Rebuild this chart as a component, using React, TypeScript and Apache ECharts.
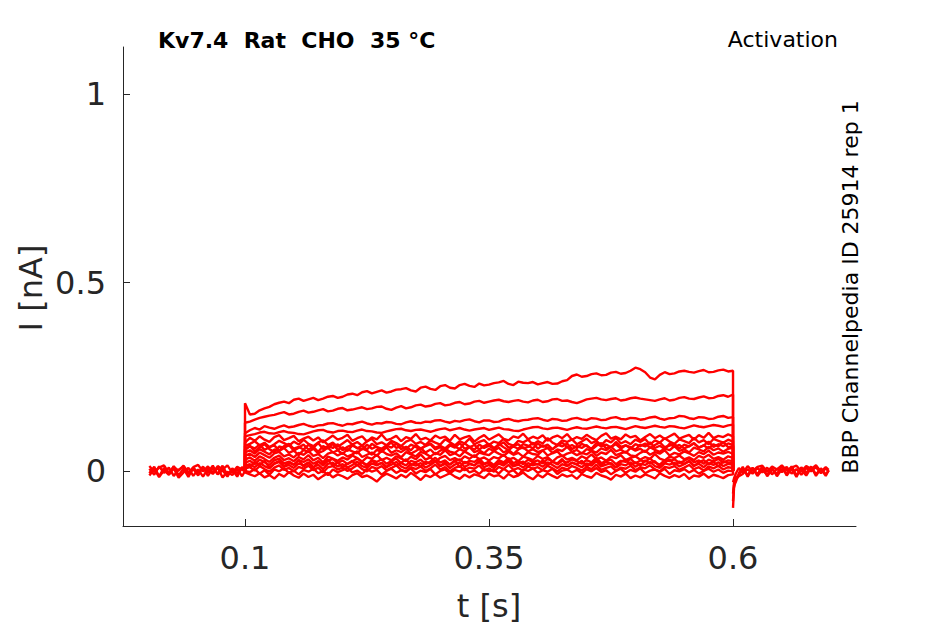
import React, { useEffect, useRef } from "react";
import * as echarts from "echarts";

// Sample times (s)
const preTimes = [0.002, 0.007, 0.012, 0.017, 0.022, 0.027, 0.032, 0.037, 0.042, 0.047, 0.052, 0.057, 0.062, 0.067, 0.072, 0.077, 0.082, 0.087, 0.092, 0.097, 0.100];
const stepTimes = [
  0.100, 0.105, 0.110, 0.115, 0.120, 0.125, 0.130, 0.135, 0.140, 0.145,
  0.150, 0.155, 0.160, 0.165, 0.170, 0.175, 0.180, 0.185, 0.190, 0.195,
  0.200, 0.205, 0.210, 0.215, 0.220, 0.225, 0.230, 0.235, 0.240, 0.245,
  0.250, 0.255, 0.260, 0.265, 0.270, 0.275, 0.280, 0.285, 0.290, 0.295,
  0.300, 0.305, 0.310, 0.315, 0.320, 0.325, 0.330, 0.335, 0.340, 0.345,
  0.350, 0.355, 0.360, 0.365, 0.370, 0.375, 0.380, 0.385, 0.390, 0.395,
  0.400, 0.405, 0.410, 0.415, 0.420, 0.425, 0.430, 0.435, 0.440, 0.445,
  0.450, 0.455, 0.460, 0.465, 0.470, 0.475, 0.480, 0.485, 0.490, 0.495,
  0.500, 0.505, 0.510, 0.515, 0.520, 0.525, 0.530, 0.535, 0.540, 0.545,
  0.550, 0.555, 0.560, 0.565, 0.570, 0.575, 0.580, 0.585, 0.590, 0.595,
  0.600,
];
const postTimes = [0.600, 0.601, 0.603, 0.606, 0.610, 0.615, 0.620, 0.625, 0.630, 0.635, 0.640, 0.645, 0.650, 0.655, 0.660, 0.665, 0.670, 0.675, 0.680, 0.685, 0.690, 0.695, 0.698];

// Holding baseline before the step (nA)
const pre1 = [0.006, -0.010, 0.012, -0.005, 0.009, -0.013, 0.003, 0.011, -0.008, 0.005, -0.012, 0.010, -0.004, 0.014, -0.009, 0.002, -0.015, 0.007, -0.006, 0.010, 0.000];
const pre2 = [-0.012, 0.005, -0.016, 0.002, -0.010, 0.007, -0.018, -0.004, 0.008, -0.013, 0.004, -0.015, 0.006, -0.008, 0.009, -0.017, -0.002, -0.011, 0.006, -0.014, 0.000];
const pre3 = [0.013, -0.002, 0.009, 0.015, -0.005, 0.011, 0.001, 0.014, -0.004, 0.010, 0.016, -0.001, 0.012, -0.006, 0.013, 0.004, 0.015, -0.005, 0.011, 0.003, 0.000];
const pre4 = [-0.006, 0.011, -0.014, 0.008, -0.009, 0.013, -0.012, 0.006, -0.016, 0.009, -0.005, 0.012, -0.013, 0.007, -0.008, 0.014, -0.011, 0.004, -0.015, 0.010, 0.000];

// Currents during the activation step (nA), one per voltage step
const trace1 = [
  0.180, 0.150, 0.152, 0.161, 0.166, 0.170, 0.177, 0.181, 0.184, 0.180,
  0.189, 0.192, 0.186, 0.190, 0.194, 0.188, 0.192, 0.197, 0.199, 0.194,
  0.197, 0.203, 0.205, 0.201, 0.209, 0.212, 0.206, 0.210, 0.214, 0.208,
  0.211, 0.216, 0.217, 0.220, 0.214, 0.211, 0.221, 0.224, 0.218, 0.215,
  0.225, 0.228, 0.221, 0.219, 0.228, 0.231, 0.226, 0.223, 0.232, 0.227,
  0.229, 0.233, 0.235, 0.239, 0.231, 0.228, 0.237, 0.234, 0.233, 0.236,
  0.230, 0.233, 0.236, 0.231, 0.232, 0.238, 0.241, 0.252, 0.256, 0.250,
  0.252, 0.257, 0.259, 0.254, 0.255, 0.261, 0.263, 0.258, 0.260, 0.266,
  0.274, 0.270, 0.262, 0.248, 0.243, 0.255, 0.262, 0.257, 0.259, 0.264,
  0.266, 0.263, 0.261, 0.265, 0.268, 0.262, 0.263, 0.267, 0.269, 0.264,
  0.266,
];
const trace2 = [
  0.128, 0.131, 0.136, 0.141, 0.144, 0.147, 0.149, 0.153, 0.156, 0.150,
  0.152, 0.157, 0.160, 0.155, 0.157, 0.161, 0.164, 0.158, 0.160, 0.165,
  0.167, 0.161, 0.163, 0.166, 0.169, 0.164, 0.166, 0.170, 0.171, 0.165,
  0.162, 0.168, 0.172, 0.166, 0.169, 0.174, 0.176, 0.171, 0.173, 0.178,
  0.180, 0.174, 0.176, 0.181, 0.183, 0.177, 0.179, 0.184, 0.186, 0.181,
  0.184, 0.187, 0.189, 0.185, 0.183, 0.186, 0.188, 0.184, 0.182, 0.187,
  0.189, 0.183, 0.185, 0.190, 0.191, 0.186, 0.187, 0.183, 0.180, 0.185,
  0.190, 0.192, 0.194, 0.190, 0.188, 0.191, 0.193, 0.187, 0.189, 0.193,
  0.195, 0.192, 0.190, 0.188, 0.186, 0.190, 0.193, 0.187, 0.189, 0.194,
  0.196, 0.192, 0.191, 0.195, 0.198, 0.193, 0.194, 0.199, 0.201, 0.197,
  0.203,
];
const trace3 = [
  0.100, 0.108, 0.114, 0.110, 0.119, 0.115, 0.112, 0.117, 0.121, 0.116,
  0.118, 0.122, 0.125, 0.120, 0.117, 0.121, 0.122, 0.126, 0.127, 0.123,
  0.120, 0.125, 0.124, 0.128, 0.131, 0.126, 0.123, 0.127, 0.126, 0.130,
  0.129, 0.125, 0.124, 0.129, 0.132, 0.128, 0.127, 0.131, 0.130, 0.134,
  0.135, 0.131, 0.128, 0.133, 0.131, 0.135, 0.137, 0.132, 0.129, 0.134,
  0.134, 0.130, 0.131, 0.136, 0.138, 0.134, 0.132, 0.135, 0.136, 0.139,
  0.140, 0.136, 0.133, 0.138, 0.137, 0.133, 0.134, 0.139, 0.141, 0.137,
  0.135, 0.140, 0.139, 0.135, 0.136, 0.141, 0.143, 0.138, 0.137, 0.141,
  0.140, 0.136, 0.138, 0.142, 0.144, 0.139, 0.136, 0.140, 0.141, 0.146,
  0.145, 0.140, 0.138, 0.143, 0.142, 0.138, 0.139, 0.144, 0.146, 0.141,
  0.143,
];
const trace4 = [
  0.092, 0.095, 0.098, 0.102, 0.104, 0.100, 0.099, 0.103, 0.106, 0.102,
  0.101, 0.098, 0.097, 0.101, 0.105, 0.108, 0.109, 0.104, 0.102, 0.106,
  0.107, 0.104, 0.103, 0.107, 0.110, 0.106, 0.105, 0.102, 0.101, 0.105,
  0.108, 0.111, 0.112, 0.108, 0.106, 0.109, 0.110, 0.107, 0.104, 0.108,
  0.111, 0.113, 0.108, 0.111, 0.114, 0.110, 0.107, 0.110, 0.112, 0.114,
  0.109, 0.112, 0.115, 0.111, 0.110, 0.107, 0.106, 0.110, 0.113, 0.116,
  0.117, 0.113, 0.111, 0.114, 0.115, 0.112, 0.109, 0.113, 0.116, 0.113,
  0.112, 0.115, 0.118, 0.115, 0.113, 0.116, 0.117, 0.114, 0.111, 0.115,
  0.119, 0.116, 0.114, 0.117, 0.120, 0.117, 0.115, 0.119, 0.118, 0.115,
  0.113, 0.117, 0.121, 0.118, 0.116, 0.119, 0.122, 0.120, 0.117, 0.121,
  0.123,
];
const trace5 = [
  0.075, 0.088, 0.080, 0.092, 0.083, 0.077, 0.090, 0.095, 0.082, 0.087,
  0.093, 0.079, 0.086, 0.091, 0.081, 0.089, 0.076, 0.085, 0.094, 0.083,
  0.088, 0.096, 0.080, 0.087, 0.092, 0.078, 0.089, 0.084, 0.097, 0.082,
  0.086, 0.093, 0.079, 0.090, 0.085, 0.098, 0.083, 0.088, 0.081, 0.094,
  0.087, 0.091, 0.080, 0.096, 0.084, 0.089, 0.093, 0.078, 0.088, 0.095,
  0.083, 0.090, 0.097, 0.085, 0.081, 0.092, 0.088, 0.099, 0.084, 0.091,
  0.086, 0.095, 0.080, 0.089, 0.094, 0.087, 0.098, 0.083, 0.090, 0.085,
  0.096, 0.088, 0.082, 0.093, 0.100, 0.086, 0.091, 0.084, 0.097, 0.089,
  0.093, 0.081, 0.090, 0.098, 0.087, 0.094, 0.085, 0.092, 0.099, 0.086,
  0.091, 0.096, 0.083, 0.095, 0.088, 0.101, 0.087, 0.093, 0.090, 0.097,
  0.092,
];
const trace6 = [
  0.066, 0.072, 0.079, 0.068, 0.075, 0.063, 0.071, 0.080, 0.074, 0.067,
  0.078, 0.070, 0.083, 0.072, 0.066, 0.076, 0.081, 0.069, 0.075, 0.064,
  0.073, 0.082, 0.070, 0.077, 0.067, 0.079, 0.085, 0.071, 0.076, 0.068,
  0.080, 0.074, 0.066, 0.078, 0.083, 0.072, 0.077, 0.069, 0.081, 0.075,
  0.070, 0.084, 0.076, 0.068, 0.079, 0.073, 0.086, 0.071, 0.077, 0.082,
  0.069, 0.078, 0.074, 0.085, 0.072, 0.067, 0.080, 0.076, 0.083, 0.070,
  0.079, 0.073, 0.087, 0.075, 0.069, 0.081, 0.077, 0.084, 0.071, 0.078,
  0.086, 0.074, 0.080, 0.068, 0.082, 0.076, 0.088, 0.073, 0.079, 0.071,
  0.083, 0.077, 0.085, 0.070, 0.081, 0.075, 0.087, 0.078, 0.072, 0.084,
  0.079, 0.074, 0.088, 0.076, 0.082, 0.071, 0.085, 0.080, 0.075, 0.083,
  0.078,
];
const trace7 = [
  0.058, 0.065, 0.060, 0.070, 0.056, 0.063, 0.068, 0.054, 0.066, 0.072,
  0.059, 0.064, 0.057, 0.069, 0.062, 0.074, 0.058, 0.066, 0.061, 0.071,
  0.055, 0.064, 0.070, 0.060, 0.067, 0.057, 0.072, 0.063, 0.059, 0.068,
  0.075, 0.061, 0.066, 0.058, 0.070, 0.064, 0.056, 0.069, 0.073, 0.062,
  0.067, 0.060, 0.071, 0.065, 0.058, 0.074, 0.063, 0.069, 0.057, 0.066,
  0.072, 0.061, 0.068, 0.076, 0.062, 0.065, 0.059, 0.071, 0.067, 0.060,
  0.073, 0.064, 0.070, 0.058, 0.067, 0.075, 0.063, 0.069, 0.061, 0.072,
  0.066, 0.059, 0.074, 0.065, 0.070, 0.062, 0.077, 0.064, 0.068, 0.060,
  0.071, 0.066, 0.073, 0.061, 0.069, 0.076, 0.063, 0.067, 0.072, 0.059,
  0.070, 0.065, 0.074, 0.062, 0.068, 0.078, 0.064, 0.071, 0.066, 0.073,
  0.069,
];
const trace8 = [
  0.049, 0.055, 0.046, 0.058, 0.051, 0.044, 0.057, 0.053, 0.061, 0.048,
  0.054, 0.042, 0.056, 0.050, 0.059, 0.047, 0.053, 0.062, 0.049, 0.055,
  0.045, 0.058, 0.052, 0.047, 0.060, 0.054, 0.043, 0.056, 0.051, 0.063,
  0.048, 0.055, 0.050, 0.059, 0.046, 0.053, 0.061, 0.049, 0.057, 0.044,
  0.054, 0.060, 0.051, 0.048, 0.058, 0.052, 0.064, 0.050, 0.055, 0.047,
  0.059, 0.053, 0.062, 0.049, 0.056, 0.045, 0.057, 0.063, 0.052, 0.058,
  0.050, 0.055, 0.061, 0.048, 0.057, 0.053, 0.064, 0.051, 0.056, 0.046,
  0.058, 0.054, 0.049, 0.060, 0.055, 0.065, 0.052, 0.057, 0.048, 0.061,
  0.054, 0.059, 0.050, 0.063, 0.056, 0.051, 0.060, 0.055, 0.066, 0.053,
  0.058, 0.049, 0.062, 0.057, 0.052, 0.064, 0.055, 0.060, 0.051, 0.059,
  0.062,
];
const trace9 = [
  0.040, 0.046, 0.037, 0.049, 0.042, 0.035, 0.047, 0.051, 0.039, 0.044,
  0.036, 0.048, 0.043, 0.053, 0.040, 0.045, 0.034, 0.046, 0.050, 0.041,
  0.048, 0.038, 0.044, 0.052, 0.037, 0.043, 0.049, 0.040, 0.054, 0.045,
  0.041, 0.047, 0.036, 0.050, 0.044, 0.039, 0.051, 0.046, 0.038, 0.048,
  0.043, 0.055, 0.042, 0.047, 0.039, 0.052, 0.044, 0.037, 0.049, 0.045,
  0.042, 0.053, 0.046, 0.040, 0.051, 0.043, 0.048, 0.038, 0.050, 0.045,
  0.043, 0.055, 0.041, 0.047, 0.052, 0.039, 0.046, 0.050, 0.042, 0.048,
  0.044, 0.053, 0.040, 0.049, 0.045, 0.056, 0.042, 0.047, 0.051, 0.041,
  0.039, 0.048, 0.054, 0.043, 0.050, 0.046, 0.055, 0.041, 0.048, 0.044,
  0.052, 0.047, 0.040, 0.050, 0.045, 0.054, 0.043, 0.049, 0.046, 0.051,
  0.045,
];
const trace10 = [
  0.030, 0.036, 0.027, 0.039, 0.032, 0.024, 0.035, 0.041, 0.029, 0.034,
  0.026, 0.037, 0.031, 0.042, 0.028, 0.035, 0.023, 0.038, 0.033, 0.027,
  0.036, 0.030, 0.041, 0.034, 0.025, 0.037, 0.032, 0.043, 0.029, 0.035,
  0.028, 0.039, 0.033, 0.026, 0.038, 0.031, 0.044, 0.030, 0.036, 0.024,
  0.035, 0.040, 0.029, 0.034, 0.027, 0.039, 0.032, 0.042, 0.031, 0.036,
  0.028, 0.037, 0.033, 0.043, 0.030, 0.035, 0.026, 0.038, 0.034, 0.029,
  0.040, 0.032, 0.037, 0.025, 0.036, 0.041, 0.030, 0.035, 0.028, 0.039,
  0.033, 0.044, 0.031, 0.036, 0.027, 0.038, 0.034, 0.042, 0.029, 0.035,
  0.039, 0.030, 0.037, 0.032, 0.045, 0.033, 0.028, 0.038, 0.034, 0.041,
  0.031, 0.036, 0.029, 0.040, 0.035, 0.043, 0.032, 0.037, 0.030, 0.039,
  0.035,
];
const trace11 = [
  0.022, 0.027, 0.018, 0.030, 0.023, 0.016, 0.028, 0.033, 0.020, 0.025,
  0.017, 0.029, 0.024, 0.031, 0.019, 0.026, 0.014, 0.027, 0.032, 0.021,
  0.028, 0.018, 0.025, 0.034, 0.022, 0.017, 0.029, 0.024, 0.031, 0.019,
  0.026, 0.033, 0.021, 0.015, 0.027, 0.023, 0.030, 0.018, 0.025, 0.035,
  0.022, 0.028, 0.017, 0.026, 0.031, 0.020, 0.027, 0.024, 0.033, 0.019,
  0.025, 0.016, 0.029, 0.023, 0.034, 0.021, 0.026, 0.018, 0.030, 0.024,
  0.028, 0.020, 0.032, 0.025, 0.017, 0.027, 0.022, 0.031, 0.026, 0.019,
  0.029, 0.023, 0.035, 0.021, 0.026, 0.030, 0.018, 0.027, 0.024, 0.032,
  0.020, 0.028, 0.025, 0.033, 0.022, 0.017, 0.029, 0.026, 0.031, 0.021,
  0.027, 0.034, 0.023, 0.028, 0.019, 0.030, 0.025, 0.032, 0.022, 0.028,
  0.026,
];
const trace12 = [
  0.014, 0.018, 0.010, 0.021, 0.013, 0.007, 0.019, 0.024, 0.011, 0.016,
  0.008, 0.020, 0.015, 0.023, 0.010, 0.017, 0.005, 0.019, 0.022, 0.012,
  0.018, 0.009, 0.016, 0.025, 0.013, 0.008, 0.020, 0.015, 0.022, 0.011,
  0.017, 0.024, 0.012, 0.006, 0.018, 0.014, 0.021, 0.009, 0.016, 0.026,
  0.013, 0.019, 0.008, 0.017, 0.022, 0.011, 0.018, 0.015, 0.024, 0.010,
  0.016, 0.007, 0.020, 0.014, 0.025, 0.012, 0.017, 0.009, 0.021, 0.015,
  0.019, 0.011, 0.023, 0.016, 0.008, 0.018, 0.013, 0.022, 0.017, 0.010,
  0.020, 0.014, 0.026, 0.012, 0.017, 0.021, 0.009, 0.018, 0.015, 0.023,
  0.011, 0.019, 0.016, 0.024, 0.013, 0.008, 0.020, 0.017, 0.022, 0.012,
  0.018, 0.025, 0.014, 0.019, 0.010, 0.021, 0.016, 0.023, 0.013, 0.019,
  0.016,
];
const trace13 = [
  0.006, 0.010, 0.001, 0.013, 0.005, -0.002, 0.009, 0.015, 0.003, 0.008,
  -0.001, 0.011, 0.006, 0.014, 0.002, 0.009, -0.004, 0.010, 0.013, 0.004,
  0.009, 0.000, 0.007, 0.016, 0.005, -0.001, 0.011, 0.006, 0.013, 0.002,
  0.008, 0.015, 0.003, -0.003, 0.010, 0.005, 0.012, 0.000, 0.007, 0.017,
  0.004, 0.010, -0.001, 0.008, 0.013, 0.002, 0.009, 0.006, 0.015, 0.001,
  0.007, -0.002, 0.011, 0.005, 0.016, 0.003, 0.008, 0.000, 0.012, 0.006,
  0.010, 0.002, 0.014, 0.007, -0.001, 0.009, 0.004, 0.013, 0.008, 0.001,
  0.011, 0.005, 0.017, 0.003, 0.008, 0.012, 0.000, 0.009, 0.006, 0.014,
  0.002, 0.010, 0.007, 0.015, 0.004, -0.001, 0.011, 0.008, 0.013, 0.003,
  0.009, 0.016, 0.005, 0.010, 0.001, 0.012, 0.007, 0.014, 0.004, 0.010,
  0.008,
];
const trace14 = [
  0.000, -0.003, 0.005, -0.007, 0.002, -0.010, 0.004, -0.001, 0.007, -0.005,
  0.001, -0.009, 0.003, -0.002, 0.006, -0.006, 0.000, -0.011, 0.004, -0.003,
  0.002, 0.008, -0.004, 0.001, -0.008, 0.005, -0.002, 0.003, -0.010, 0.000,
  0.006, -0.005, 0.002, -0.001, 0.007, -0.007, 0.001, -0.003, 0.005, -0.009,
  0.000, 0.004, -0.006, 0.003, -0.002, 0.008, -0.004, 0.001, -0.008, 0.005,
  -0.001, 0.003, -0.007, 0.006, -0.003, 0.002, -0.010, 0.004, 0.000, 0.007,
  -0.005, 0.002, -0.002, 0.006, -0.008, 0.001, 0.004, -0.004, 0.003, -0.006,
  0.005, -0.001, 0.008, -0.003, 0.002, -0.009, 0.000, 0.006, -0.005, 0.003,
  -0.002, 0.007, -0.006, 0.001, 0.004, -0.003, 0.006, -0.008, 0.002, -0.001,
  0.005, -0.004, 0.003, -0.007, 0.000, 0.006, -0.002, 0.004, -0.005, 0.001,
  -0.001,
];
const trace15 = [
  -0.004, -0.009, -0.014, -0.006, -0.017, -0.011, -0.020, -0.008, -0.015, -0.003,
  -0.012, -0.018, -0.007, -0.016, -0.010, -0.022, -0.013, -0.005, -0.017, -0.009,
  -0.014, -0.021, -0.011, -0.006, -0.016, -0.012, -0.019, -0.028, -0.015, -0.007,
  -0.013, -0.020, -0.010, -0.017, -0.005, -0.014, -0.024, -0.011, -0.016, -0.008,
  -0.018, -0.012, -0.006, -0.015, -0.021, -0.010, -0.017, -0.009, -0.013, -0.019,
  -0.007, -0.014, -0.011, -0.020, -0.008, -0.016, -0.012, -0.004, -0.015, -0.022,
  -0.010, -0.017, -0.006, -0.013, -0.019, -0.009, -0.015, -0.011, -0.021, -0.008,
  -0.014, -0.018, -0.005, -0.012, -0.016, -0.023, -0.010, -0.015, -0.007, -0.019,
  -0.012, -0.017, -0.009, -0.014, -0.020, -0.006, -0.013, -0.018, -0.011, -0.016,
  -0.008, -0.021, -0.012, -0.015, -0.007, -0.018, -0.010, -0.014, -0.019, -0.011,
  -0.009,
];
const trace16 = [
  0.055, 0.067, 0.052, 0.063, 0.071, 0.058, 0.050, 0.065, 0.061, 0.069,
  0.054, 0.062, 0.070, 0.057, 0.064, 0.051, 0.066, 0.060, 0.072, 0.056,
  0.063, 0.053, 0.068, 0.061, 0.057, 0.070, 0.059, 0.065, 0.052, 0.067,
  0.062, 0.073, 0.058, 0.064, 0.055, 0.069, 0.060, 0.066, 0.071, 0.057,
  0.063, 0.054, 0.068, 0.062, 0.074, 0.059, 0.065, 0.056, 0.070, 0.061,
  0.067, 0.058, 0.072, 0.063, 0.055, 0.066, 0.071, 0.060, 0.064, 0.075,
  0.059, 0.068, 0.062, 0.057, 0.070, 0.065, 0.073, 0.058, 0.066, 0.061,
  0.069, 0.056, 0.067, 0.074, 0.060, 0.064, 0.071, 0.059, 0.068, 0.063,
  0.057, 0.070, 0.065, 0.076, 0.061, 0.067, 0.058, 0.072, 0.064, 0.069,
  0.060, 0.066, 0.073, 0.062, 0.068, 0.059, 0.071, 0.065, 0.077, 0.063,
  0.066,
];
const trace17 = [
  0.018, 0.011, 0.024, 0.015, 0.027, 0.009, 0.020, 0.026, 0.013, 0.022,
  0.016, 0.029, 0.012, 0.021, 0.008, 0.025, 0.018, 0.030, 0.014, 0.023,
  0.010, 0.019, 0.027, 0.015, 0.024, 0.012, 0.028, 0.017, 0.021, 0.009,
  0.026, 0.014, 0.022, 0.031, 0.016, 0.020, 0.011, 0.025, 0.019, 0.028,
  0.013, 0.023, 0.017, 0.029, 0.010, 0.024, 0.020, 0.015, 0.027, 0.018,
  0.022, 0.012, 0.026, 0.019, 0.030, 0.014, 0.021, 0.025, 0.011, 0.023,
  0.017, 0.028, 0.015, 0.024, 0.020, 0.032, 0.013, 0.022, 0.018, 0.027,
  0.012, 0.021, 0.029, 0.016, 0.025, 0.019, 0.010, 0.024, 0.030, 0.017,
  0.023, 0.014, 0.028, 0.020, 0.026, 0.011, 0.022, 0.031, 0.016, 0.025,
  0.019, 0.027, 0.013, 0.023, 0.029, 0.018, 0.024, 0.012, 0.026, 0.021,
  0.022,
];

// Tail after repolarisation (nA)
const post1 = [-0.098, -0.045, -0.022, -0.014, -0.008, 0.005, -0.007, 0.008, -0.004, 0.009, -0.009, 0.006, -0.003, 0.011, -0.007, 0.005, -0.010, 0.008, -0.001, 0.010, -0.006, 0.007, -0.002];
const post2 = [-0.060, -0.032, -0.018, -0.011, 0.006, -0.011, 0.009, -0.013, 0.003, -0.010, 0.008, -0.014, 0.005, -0.007, 0.012, -0.011, 0.003, -0.012, 0.009, -0.008, 0.005, -0.013, 0.002];
const post3 = [-0.030, -0.020, -0.006, 0.008, -0.005, 0.013, 0.000, 0.011, 0.014, -0.002, 0.012, 0.004, 0.015, 0.001, 0.009, 0.014, -0.001, 0.013, 0.005, 0.015, -0.002, 0.010, 0.003];
const post4 = [-0.080, -0.038, -0.028, -0.006, 0.011, -0.015, 0.007, -0.009, 0.012, -0.014, 0.004, -0.008, 0.013, -0.012, 0.006, -0.016, 0.010, -0.005, 0.012, -0.013, 0.007, -0.009, 0.001];

const xTicks = [0.1, 0.35, 0.6];
const yTicks = [0, 0.5, 1];

const stepTraces = [trace1, trace2, trace3, trace4, trace5, trace6, trace16, trace7, trace8, trace9, trace10, trace11, trace17, trace12, trace13, trace14, trace15];
const preTraces = [pre1, pre2, pre3, pre4];
const postTraces = [post1, post2, post3, post4];

const RED = "#ff0000";
const INK = "#262626";
const FONT = "'DejaVu Sans', 'Noto Sans', sans-serif";

function zip(ts: number[], vs: number[]): number[][] {
  const n = Math.min(ts.length, vs.length);
  const out: number[][] = [];
  for (let i = 0; i < n; i++) out.push([ts[i], vs[i]]);
  return out;
}

function lineSeries(data: number[][]) {
  return {
    type: "line",
    data,
    showSymbol: false,
    symbol: "none",
    silent: true,
    lineStyle: { color: RED, width: 2.4 },
    emphasis: { disabled: true },
    z: 2,
  };
}

export default function App() {
  const ref = useRef<HTMLDivElement>(null);
  useEffect(() => {
    if (!ref.current) return;
    const chart = echarts.init(ref.current, undefined, { renderer: "svg" });
    const series: any[] = [];
    const tEnd = stepTimes[stepTimes.length - 1];
    preTraces.forEach((p) => series.push(lineSeries(zip(preTimes, p))));
    stepTraces.forEach((tr) =>
      series.push(lineSeries([[stepTimes[0], 0], ...zip(stepTimes, tr), [tEnd, 0]]))
    );
    postTraces.forEach((p) => series.push(lineSeries(zip(postTimes, p))));

    const axisCommon = {
      type: "value",
      splitLine: { show: false },
      axisLine: { show: true, onZero: false, lineStyle: { color: INK, width: 1 } },
      axisTick: { show: true, inside: true, length: 7, lineStyle: { color: INK, width: 1 } },
    };

    chart.setOption({
      animation: false,
      backgroundColor: "#ffffff",
      grid: { left: 123, right: 89, top: 47, bottom: 98, containLabel: false, outerBoundsMode: "none" },
      tooltip: { show: false },
      xAxis: {
        ...axisCommon,
        min: -0.025,
        max: 0.726,
        axisTick: { ...axisCommon.axisTick, customValues: xTicks },
        axisLabel: {
          customValues: xTicks,
          formatter: (v: number) => String(v),
          fontSize: 32,
          color: INK,
          fontFamily: FONT,
          margin: 16,
        },
      },
      yAxis: {
        ...axisCommon,
        min: -0.146,
        max: 1.125,
        axisTick: { ...axisCommon.axisTick, customValues: yTicks },
        axisLabel: {
          customValues: yTicks,
          formatter: (v: number) => String(v),
          fontSize: 32,
          color: INK,
          fontFamily: FONT,
          margin: 17,
        },
      },
      graphic: [
        {
          type: "text",
          x: 158,
          y: 40,
          silent: true,
          style: { text: "Kv7.4  Rat  CHO  35 °C", fontSize: 22, fontWeight: "bold", fontFamily: FONT, fill: "#000000", align: "left", verticalAlign: "middle" },
        },
        {
          type: "text",
          x: 838,
          y: 39,
          silent: true,
          style: { text: "Activation", fontSize: 22, fontFamily: FONT, fill: "#000000", align: "right", verticalAlign: "middle" },
        },
        {
          type: "text",
          x: 850,
          y: 287,
          rotation: Math.PI / 2,
          silent: true,
          style: { text: "BBP Channelpedia ID 25914 rep 1", fontSize: 22, fontFamily: FONT, fill: "#000000", align: "center", verticalAlign: "middle" },
        },
        {
          type: "text",
          x: 489,
          y: 606,
          silent: true,
          style: { text: "t [s]", fontSize: 32, fontFamily: FONT, fill: INK, align: "center", verticalAlign: "middle" },
        },
        {
          type: "text",
          x: 31,
          y: 288,
          rotation: Math.PI / 2,
          silent: true,
          style: { text: "I [nA]", fontSize: 32, fontFamily: FONT, fill: INK, align: "center", verticalAlign: "middle" },
        },
      ],
      series,
    });
    return () => chart.dispose();
  }, []);
  return <div ref={ref} style={{ position: "absolute", left: 0, top: 0, width: 945, height: 624 }} />;
}
